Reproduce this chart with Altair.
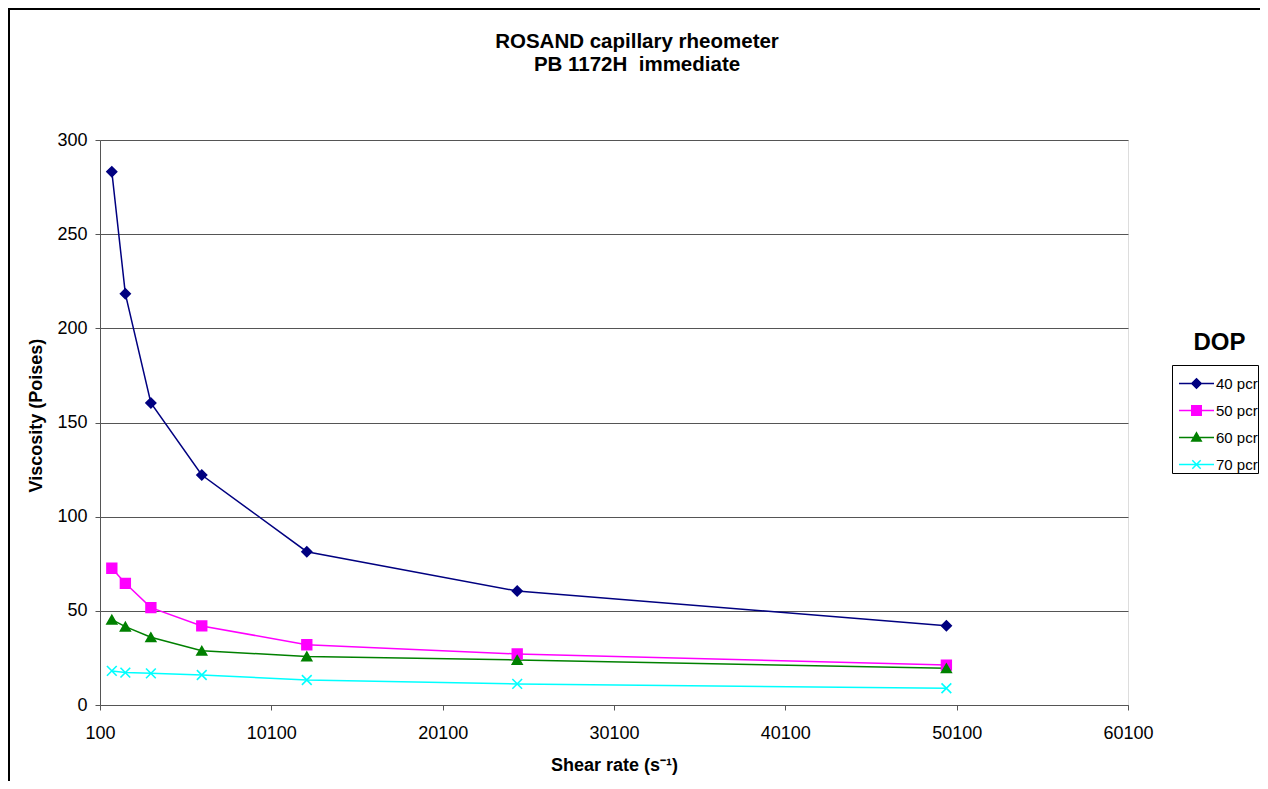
import altair as alt
import pandas as pd

# ---- data ----
shear_rate = [790, 1580, 3070, 6040, 12170, 24450, 49500]
series = ["40 pcr", "50 pcr", "60 pcr", "70 pcr"]
visc_40 = [283.2, 218.3, 160.4, 122.1, 81.4, 60.5, 42.1]
visc_50 = [72.6, 64.6, 51.7, 42.0, 32.0, 27.1, 21.2]
visc_60 = [45.3, 41.6, 36.0, 28.8, 25.8, 23.9, 19.5]
visc_70 = [18.1, 17.2, 16.8, 15.9, 13.3, 11.2, 8.9]
x_ticks = [100, 10100, 20100, 30100, 40100, 50100, 60100]
y_ticks = [0, 50, 100, 150, 200, 250, 300]
colors = ["#000080", "#FF00FF", "#008000", "#00FFFF"]

rows = []
for name, vals in zip(series, [visc_40, visc_50, visc_60, visc_70]):
    for xv, yv in zip(shear_rate, vals):
        rows.append({"series": name, "shear": xv, "visc": yv})
df = pd.DataFrame(rows)

FONT = "Liberation Sans"

marker_shapes = ["diamond", "square", "triangle-up", "M-1,-1L1,1M-1,1L1,-1"]
legend_shapes = [
    "M-1,0L1,0M0,-0.27L0.27,0L0,0.27L-0.27,0Z",
    "M-1,0L1,0M-0.27,-0.27L0.27,-0.27L0.27,0.27L-0.27,0.27Z",
    "M-1,0L1,0M0,-0.27L0.27,0.2L-0.27,0.2Z",
    "M-1,0L1,0M-0.24,-0.24L0.24,0.24M-0.24,0.24L0.24,-0.24",
]

legend = alt.Legend(
    title=None,
    orient="none",
    legendX=1072,
    legendY=225,
    strokeColor="black",
    fillColor="white",
    padding=0,
    labelFontSize=15,
    labelFont=FONT,
    labelColor="black",
    labelLimit=300,
    symbolSize=1225,
    symbolOffset=6,
    symbolStrokeWidth=1.5,
    symbolOpacity=1,
    labelOffset=1,
    rowPadding=-4,
)

color_scale = alt.Scale(domain=series, range=colors)

x_enc = alt.X(
    "shear:Q",
    scale=alt.Scale(domain=[100, 60100], nice=False, zero=False),
    axis=alt.Axis(
        values=x_ticks,
        format="d",
        title="Shear rate  (s⁻¹)",
        grid=False,
        tickSize=5,
        labelPadding=14,
        labelFlush=False,
        labelFontSize=18,
        labelColor="black",
        labelFont=FONT,
        titleFont=FONT,
        titleFontSize=18,
        titleFontWeight="bold",
        titleColor="black",
        titleBaseline="middle",
        titleX=514,
        titleY=60,
        domainColor="#555555",
        tickColor="#555555",
    ),
)
y_enc = alt.Y(
    "visc:Q",
    scale=alt.Scale(domain=[0, 300], nice=False),
    axis=alt.Axis(
        values=y_ticks,
        title="Viscosity (Poises)",
        grid=True,
        gridColor="#555555",
        gridWidth=1,
        tickSize=5,
        labelPadding=8,
        labelFlush=False,
        labelFontSize=18,
        labelColor="black",
        labelFont=FONT,
        titleFont=FONT,
        titleFontSize=18,
        titleFontWeight="bold",
        titleColor="black",
        titleBaseline="middle",
        titleAngle=270,
        titleX=-64,
        titleY=275,
        domainColor="#555555",
        tickColor="#555555",
    ),
)

base = alt.Chart(df)

# invisible layer that only feeds the legend (line + marker symbols); first so its legend wins
legend_layer = base.mark_point(filled=True, opacity=0, size=1225).encode(
    x=x_enc,
    y=y_enc,
    color=alt.Color("series:N", scale=color_scale, legend=legend),
    stroke=alt.Stroke("series:N", scale=color_scale, legend=legend),
    shape=alt.Shape("series:N", scale=alt.Scale(domain=series, range=legend_shapes), legend=legend),
)

lines = base.mark_line(strokeWidth=1.5).encode(
    x=x_enc,
    y=y_enc,
    color=alt.Color("series:N", scale=color_scale, legend=None),
    detail="series:N",
)

point_layers = []
for name, shp in zip(series, marker_shapes):
    point_layers.append(
        base.transform_filter(alt.datum.series == name)
        .mark_point(filled=True, strokeWidth=1.6, opacity=1, size=95, shape=shp)
        .encode(
            x=x_enc,
            y=y_enc,
            color=alt.Color("series:N", scale=color_scale, legend=None),
            stroke=alt.Stroke("series:N", scale=color_scale, legend=None),
        )
    )

one = alt.Data(values=[{"a": 1}])
border_top = alt.Chart(one).mark_rule(stroke="black", strokeWidth=2).encode(
    x=alt.value(-92), x2=alt.value(1300), y=alt.value(-131)
)
border_left = alt.Chart(one).mark_rule(stroke="black", strokeWidth=2).encode(
    x=alt.value(-91), y=alt.value(-132), y2=alt.value(800)
)

dop = alt.Chart(one).mark_text(
    text="DOP", font=FONT, fontSize=24, fontWeight="bold", align="center", baseline="middle", color="black"
).encode(x=alt.value(1119.5), y=alt.value(203))

chart = (
    alt.layer(border_top, border_left, legend_layer, lines, *point_layers, dop)
    .properties(
        width=1028,
        height=565,
        padding={"left": 92, "top": 132, "right": 132, "bottom": 76},
        autosize=alt.AutoSizeParams(type="none"),
        title=alt.TitleParams(
            text=["ROSAND capillary rheometer", "PB 1172H\u00a0 immediate"],
            font=FONT,
            fontSize=20.5,
            fontWeight="bold",
            color="black",
            anchor="middle",
            frame="group",
            dx=23,
            offset=-68,
            lineHeight=23,
        ),
    )
    .configure_view(stroke="transparent", strokeWidth=0)
    .configure(background="white")
)

chart.save("out.html", embed_options={"renderer": "svg", "actions": False})
